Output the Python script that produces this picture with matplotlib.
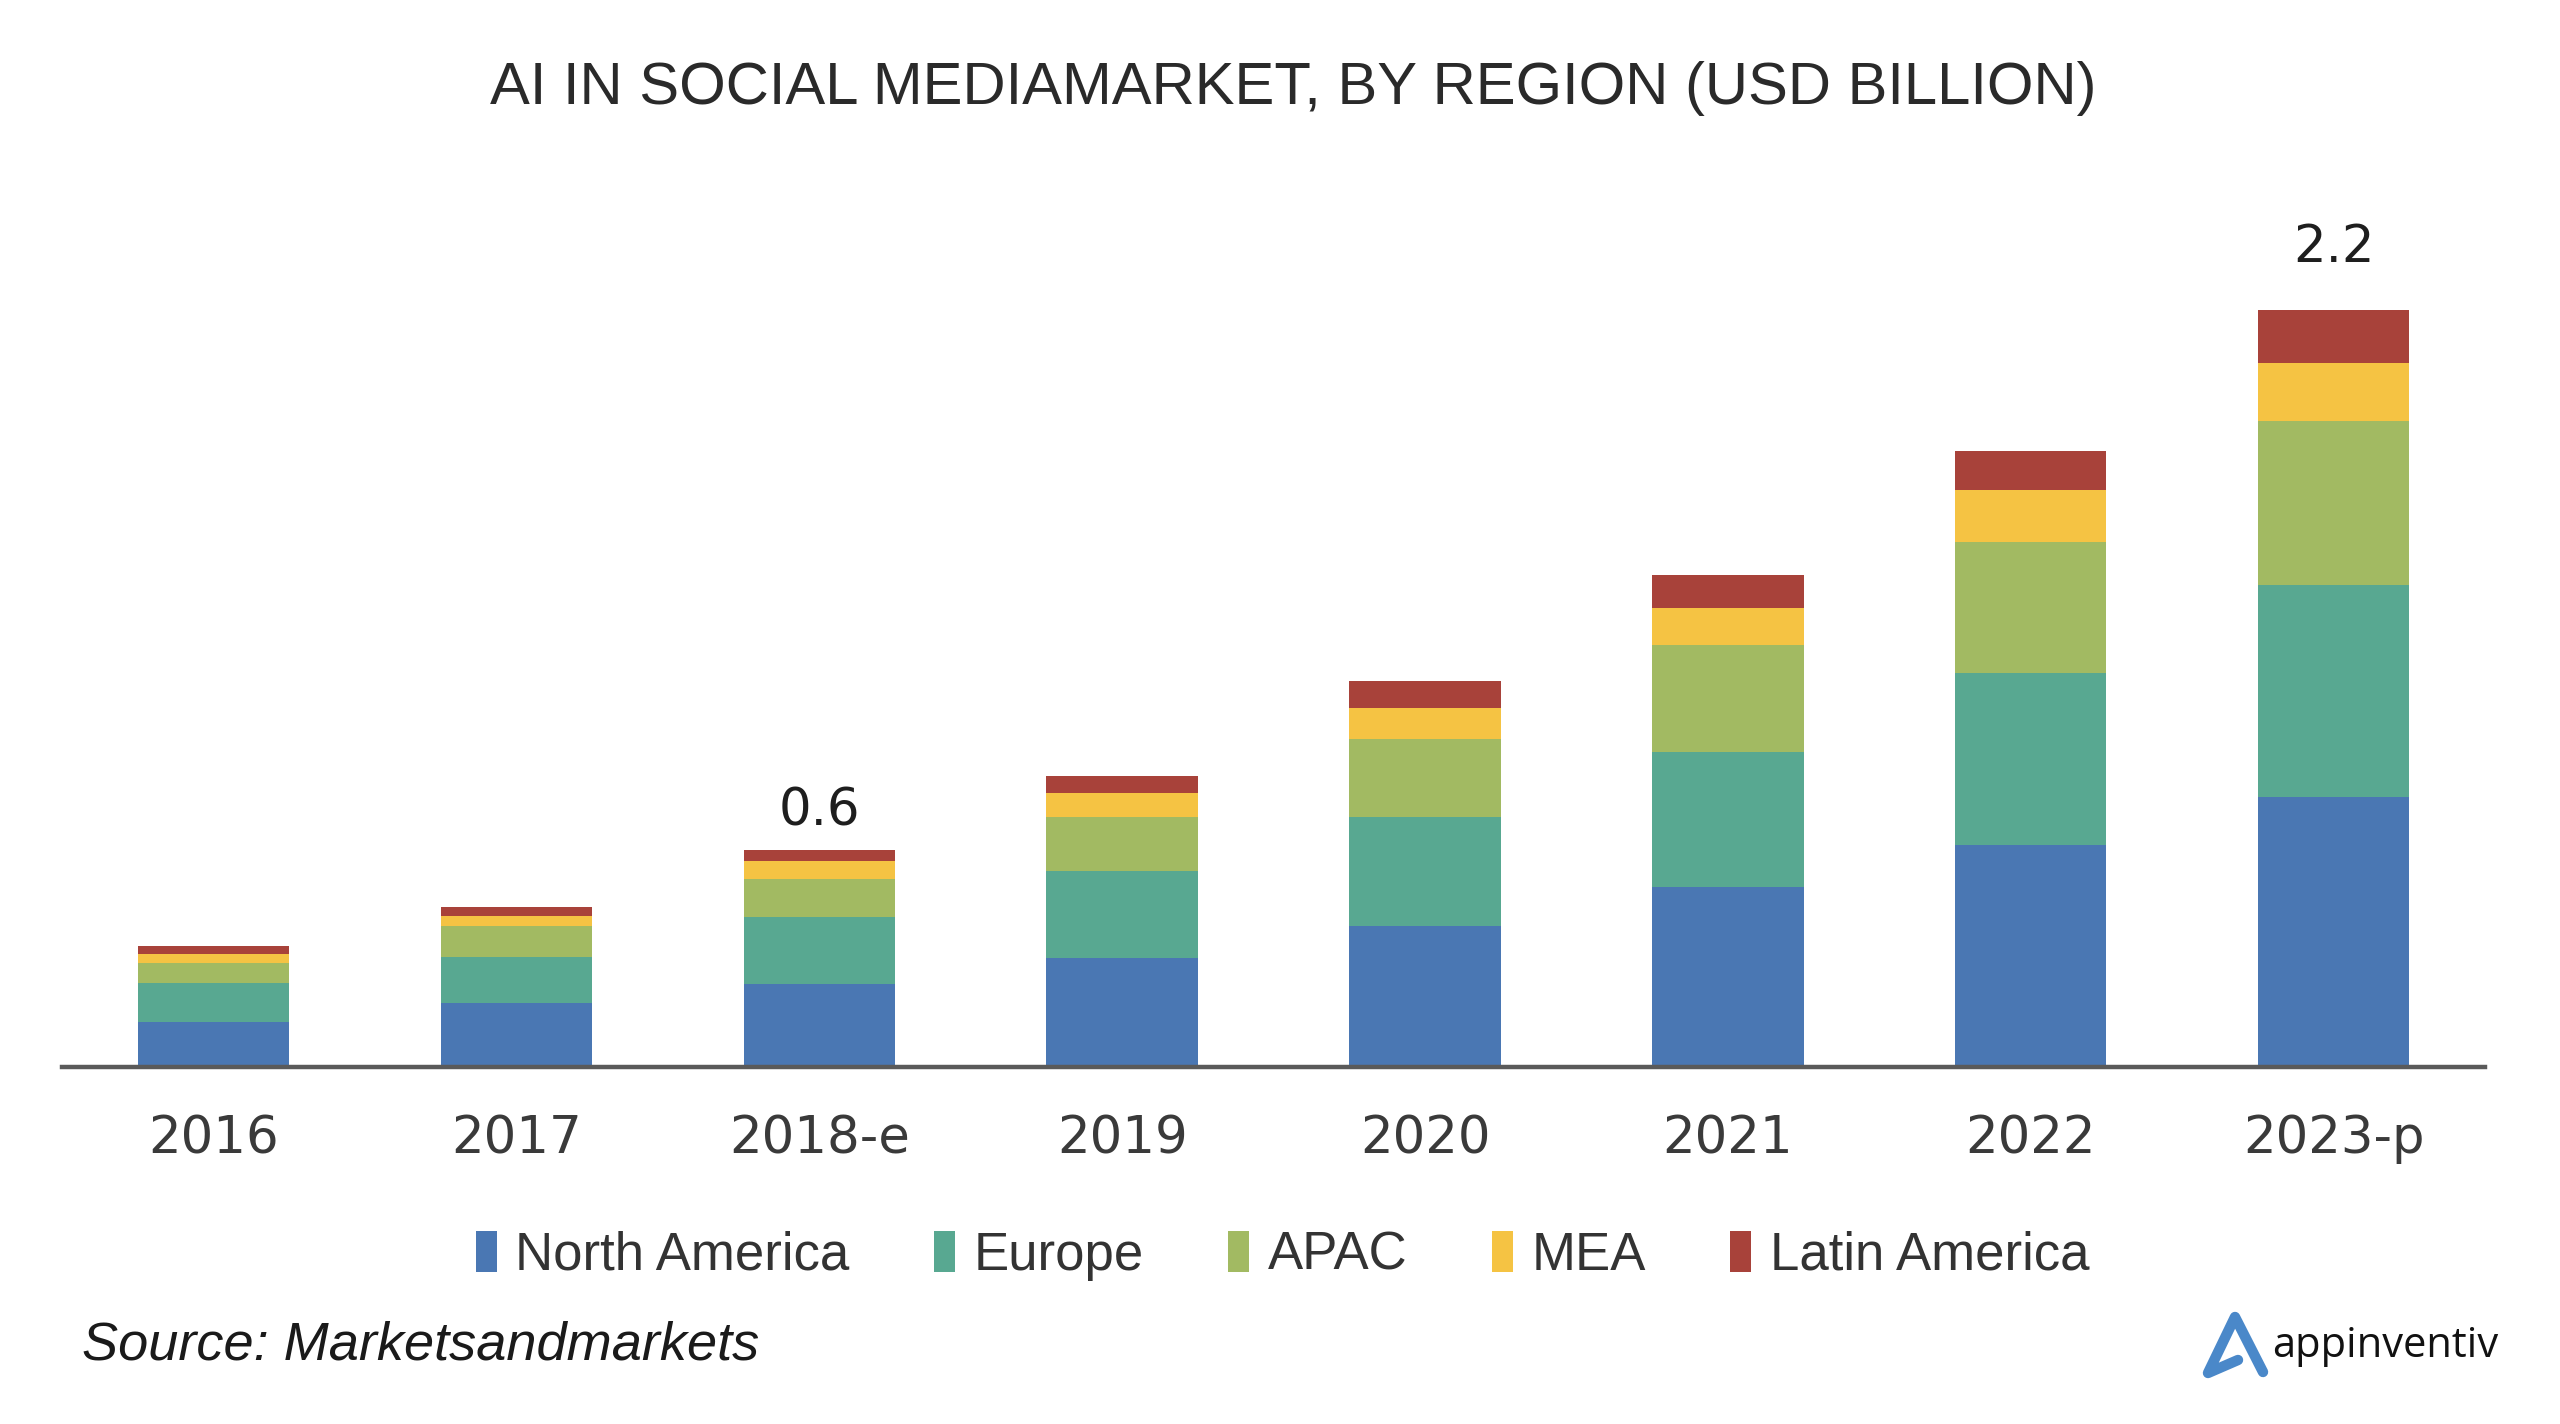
import matplotlib
matplotlib.use("Agg")
import matplotlib.pyplot as plt
from matplotlib.patches import Patch
from matplotlib.lines import Line2D
import numpy as np

# ---- data ----
years = ["2016", "2017", "2018-e", "2019", "2020", "2021", "2022", "2023-p"]
regions = ["North America", "Europe", "APAC", "MEA", "Latin America"]
north_america = [0.13, 0.185, 0.242, 0.318, 0.409, 0.523, 0.646, 0.784]
europe        = [0.114, 0.135, 0.195, 0.252, 0.318, 0.394, 0.499, 0.618]
apac          = [0.057, 0.09, 0.109, 0.157, 0.228, 0.309, 0.380, 0.475]
mea           = [0.028, 0.028, 0.052, 0.071, 0.090, 0.109, 0.152, 0.171]
latin_america = [0.024, 0.028, 0.033, 0.048, 0.076, 0.095, 0.114, 0.152]
value_labels = {"2018-e": "0.6", "2023-p": "2.2"}

colors = ["#4a77b3", "#58a891", "#a2ba62", "#f5c343", "#a8423a"]
series = [north_america, europe, apac, mea, latin_america]

W, H = 2560, 1424
fig = plt.figure(figsize=(W / 100, H / 100), dpi=100)
fig.patch.set_facecolor("white")

narrow = ["Liberation Sans Narrow", "Liberation Sans", "DejaVu Sans"]

ax = fig.add_axes([0.0243, 0.2507, 0.9464, 0.628])
x = np.arange(len(years))
bottom = np.zeros(len(years))
for vals, col, name in zip(series, colors, regions):
    ax.bar(x, vals, width=0.5, bottom=bottom, color=col, label=name, zorder=2)
    bottom += np.array(vals)

ax.set_xlim(-0.5, len(years) - 0.5)
ax.set_ylim(0, 2.6)
for s in ["top", "right", "left"]:
    ax.spines[s].set_visible(False)
ax.spines["bottom"].set_color("#5a5a5a")
ax.spines["bottom"].set_linewidth(3.2)
ax.spines["bottom"].set_zorder(3)
ax.set_yticks([])
ax.set_xticks(x)
ax.set_xticklabels(years, fontsize=37, color="#3a3a3a", family="DejaVu Sans")
ax.tick_params(axis="x", length=0, pad=34)

label_offsets = {"2018-e": 10, "2023-p": 27}
for i, yr in enumerate(years):
    if yr in value_labels:
        ax.annotate(value_labels[yr], xy=(x[i], bottom[i]),
                    xytext=(0, label_offsets[yr]), textcoords="offset points",
                    ha="center", va="bottom", fontsize=37, color="#1e1e1e",
                    family="DejaVu Sans")

fig.text(0.505, 0.938, "AI IN SOCIAL MEDIAMARKET, BY REGION (USD BILLION)",
         ha="center", va="center", fontsize=43, color="#2a2a2a", family=narrow)

handles = [Patch(facecolor=c, edgecolor="none") for c in colors]
leg = fig.legend(handles, regions, loc="center", bbox_to_anchor=(0.501, 0.1180),
                 ncol=5, frameon=False, handlelength=0.4, handleheight=0.8,
                 handletextpad=0.35, columnspacing=1.6,
                 prop={"family": "Liberation Sans", "size": 38})
for t in leg.get_texts():
    t.set_color("#333333")

fig.text(0.032, 0.055, "Source: Marketsandmarkets", ha="left", va="center",
         fontsize=39, style="italic", color="#1a1a1a", family=narrow)

# logo
logo_x = [2238, 2208, 2235, 2263]
logo_y = [1360, 1373, 1317, 1372]
fig.add_artist(Line2D([v / W for v in logo_x], [1 - v / H for v in logo_y],
                      transform=fig.transFigure, color="#4a88c9", lw=7.5,
                      solid_capstyle="round", solid_joinstyle="round"))
fig.text(2272 / W, 1 - 1357 / H, "appinventiv", ha="left", va="baseline",
         fontsize=30, color="#111111", family="Open Sans")

fig.savefig("out.png", dpi=100, facecolor="white")
